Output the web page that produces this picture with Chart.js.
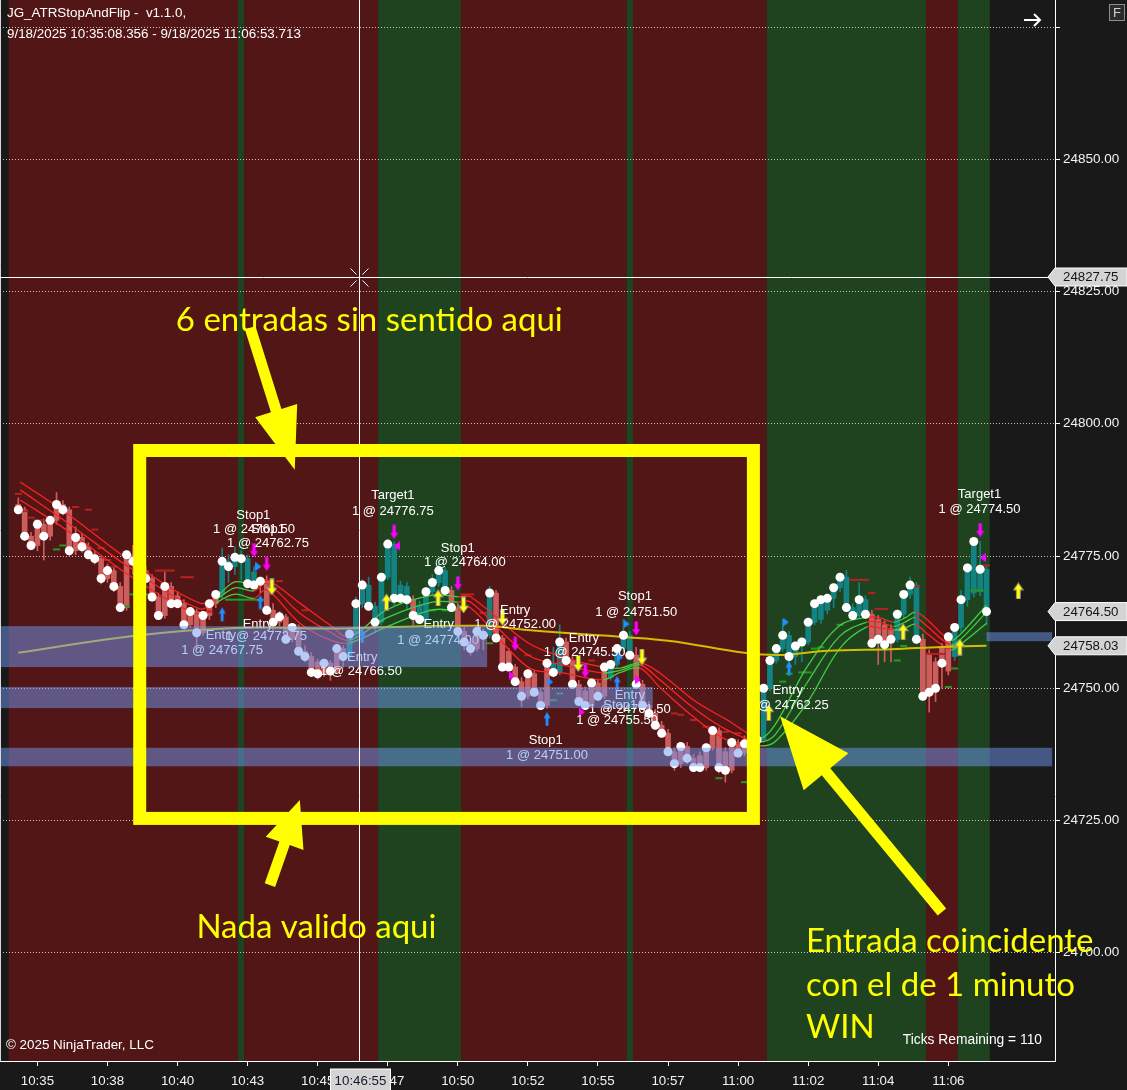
<!DOCTYPE html>
<html>
<head>
<meta charset="utf-8">
<script src="https://cdn.jsdelivr.net/npm/chart.js@4.4.1/dist/chart.umd.min.js"></script>
<style>
  html, body { margin: 0; padding: 0; background: #191919; overflow: hidden; }
  canvas { display: block; }
</style>
</head>
<body>
<canvas id="chart" width="1127" height="1090" style="width:1127px;height:1090px"></canvas>
<script>
// ---- bar data (one entry per tick bar, left to right) ----
const opens = [
  24784.75,24783.75,24778.75,24777.0,24781.0,24778.75,24781.75,24784.75,24783.75,24776.0,
  24778.5,24776.75,24775.25,24774.5,24770.75,24772.25,24769.25,24765.25,24775.25,24774.0,
  24772.25,24770.75,24767.25,24763.75,24769.25,24767.5,24766.0,24762.0,24764.5,24760.5,
  24763.75,24766.0,24767.75,24774.0,24773.0,24774.75,24774.5,24772.0,24769.5,24770.25,
  24764.75,24762.5,24763.5,24759.25,24761.5,24757.0,24756.0,24755.0,24752.75,24754.75,
  24753.25,24757.5,24756.0,24760.25,24766.0,24769.5,24765.5,24762.5,24771.0,24777.25,
  24769.5,24769.25,24766.75,24765.75,24763.0,24768.25,24770.0,24772.25,24768.5,24765.25,
  24760.75,24758.75,24757.5,24760.75,24760.0,24768.0,24759.5,24757.0,24754.0,24751.25,
  24748.5,24752.75,24749.25,24746.75,24754.75,24753.0,24758.75,24755.25,24750.75,24749.5,
  24746.75,24751.0,24748.5,24752.0,24754.5,24757.5,24760.0,24756.25,24750.75,24746.75,
  24745.25,24743.0,24741.5,24738.0,24735.75,24739.0,24736.75,24737.25,24735.0,24738.75,
  24742.0,24738.0,24734.5,24739.75,24737.75,24740.5,24739.25,24740.25,24750.0,24755.25,
  24757.5,24760.0,24756.0,24758.0,24758.75,24762.5,24763.0,24764.75,24767.0,24769.0,
  24771.0,24765.25,24763.75,24766.75,24764.0,24763.0,24762.0,24761.25,24759.25,24764.0,
  24767.75,24769.5,24759.25,24756.5,24755.0,24757.75,24753.25,24756.0,24761.5,24766.75,
  24768.0,24768.25,24772.5
];
const highs = [
  24786.0,24784.25,24779.5,24781.75,24782.0,24782.5,24787.0,24785.5,24784.25,24780.5,
  24779.25,24777.5,24776.0,24775.0,24773.5,24773.0,24770.0,24776.0,24777.0,24775.0,
  24773.0,24771.5,24768.0,24772.0,24770.0,24768.25,24766.75,24765.25,24765.0,24764.5,
  24766.75,24768.5,24776.5,24775.25,24776.75,24776.0,24775.25,24773.0,24771.0,24771.25,
  24766.0,24764.5,24764.0,24762.25,24762.0,24758.0,24756.75,24755.5,24755.5,24755.25,
  24758.25,24758.0,24761.0,24767.25,24770.5,24771.0,24766.25,24771.75,24778.0,24777.75,
  24770.25,24770.0,24767.5,24766.5,24769.0,24771.5,24773.5,24772.75,24769.25,24766.0,
  24761.5,24759.5,24761.5,24761.25,24769.25,24768.5,24760.0,24757.5,24754.5,24752.0,
  24753.5,24753.25,24750.0,24755.5,24757.75,24762.0,24759.5,24756.0,24751.5,24750.25,
  24751.75,24751.75,24754.75,24755.25,24758.25,24763.0,24760.75,24757.75,24751.5,24747.5,
  24746.0,24743.75,24742.25,24738.75,24739.75,24739.75,24737.5,24738.0,24739.5,24742.75,
  24742.5,24738.75,24740.5,24740.25,24741.0,24741.5,24741.0,24750.75,24756.0,24758.25,
  24763.0,24760.75,24758.75,24759.5,24763.25,24766.75,24767.5,24767.75,24769.75,24771.75,
  24772.25,24766.0,24770.0,24767.5,24764.75,24763.75,24762.75,24762.0,24764.75,24768.5,
  24771.0,24770.0,24760.25,24757.25,24755.75,24758.5,24760.5,24762.25,24768.5,24773.5,
  24778.25,24777.75,24773.0
];
const lows = [
  24783.0,24778.0,24776.25,24776.0,24774.25,24778.0,24781.0,24782.75,24775.0,24775.25,
  24775.75,24774.5,24773.5,24769.75,24770.0,24768.25,24764.5,24764.75,24771.5,24771.5,
  24770.0,24766.5,24763.0,24763.25,24765.25,24765.25,24761.25,24761.5,24757.5,24760.0,
  24763.0,24765.25,24767.0,24770.0,24771.5,24770.5,24769.0,24768.75,24768.0,24764.0,
  24760.75,24761.75,24758.5,24758.75,24756.25,24755.0,24752.25,24751.75,24752.25,24751.5,
  24752.75,24754.0,24755.5,24759.75,24765.25,24764.75,24760.5,24762.0,24770.5,24765.75,
  24766.0,24765.0,24762.0,24762.25,24762.5,24767.5,24769.25,24767.5,24764.5,24760.0,
  24757.25,24756.25,24757.0,24757.25,24759.5,24758.75,24753.25,24753.25,24750.5,24746.5,
  24748.0,24748.5,24746.0,24746.25,24752.25,24752.5,24754.5,24750.0,24746.75,24746.0,
  24746.25,24747.75,24748.0,24751.5,24754.0,24757.0,24755.5,24750.0,24746.0,24744.5,
  24742.25,24740.75,24737.25,24734.5,24735.0,24735.75,24734.25,24734.25,24734.5,24738.25,
  24734.0,24732.25,24734.0,24737.0,24737.25,24738.5,24738.75,24739.75,24749.5,24754.75,
  24757.0,24753.0,24754.5,24755.0,24758.25,24762.0,24762.25,24764.0,24765.25,24768.25,
  24764.5,24763.0,24763.25,24763.25,24757.75,24754.5,24755.0,24755.0,24758.75,24763.25,
  24767.0,24758.5,24747.75,24745.5,24747.5,24750.0,24752.5,24755.25,24760.75,24765.5,
  24767.25,24767.5,24762.0
];
const closes = [
  24783.75,24778.75,24777.0,24781.0,24778.75,24781.75,24784.75,24783.75,24776.0,24778.5,
  24776.75,24775.25,24774.5,24770.75,24772.25,24769.25,24765.25,24775.25,24774.0,24772.25,
  24770.75,24767.25,24763.75,24769.25,24766.0,24766.0,24762.0,24764.5,24760.5,24763.75,
  24766.0,24767.75,24774.0,24773.0,24774.75,24774.5,24769.75,24769.5,24770.25,24764.75,
  24762.5,24763.5,24759.25,24761.5,24757.0,24756.0,24753.0,24752.75,24754.75,24753.25,
  24757.5,24756.0,24760.25,24766.0,24769.5,24765.5,24762.5,24771.0,24777.25,24767.0,
  24767.0,24766.75,24763.75,24763.0,24768.25,24770.0,24772.25,24768.5,24765.25,24760.75,
  24758.75,24757.5,24760.75,24760.0,24768.0,24759.5,24754.0,24754.0,24751.25,24748.5,
  24752.75,24749.25,24746.75,24754.75,24753.0,24758.75,24755.25,24750.75,24747.5,24746.75,
  24751.0,24748.5,24754.0,24754.5,24757.5,24760.0,24756.25,24750.75,24746.75,24745.25,
  24743.0,24741.5,24738.0,24735.75,24739.0,24736.75,24735.0,24735.0,24738.75,24742.0,
  24735.0,24734.5,24739.75,24737.75,24739.5,24739.25,24740.25,24750.0,24755.25,24757.5,
  24760.0,24756.0,24758.0,24758.75,24762.5,24766.0,24766.75,24767.0,24769.0,24771.0,
  24765.25,24763.75,24766.75,24764.0,24758.5,24759.25,24758.25,24759.25,24764.0,24767.75,
  24769.5,24759.25,24748.5,24749.25,24750.0,24754.75,24759.75,24761.5,24766.75,24772.75,
  24777.75,24772.5,24764.5
];

// bar colouring by trend state: [firstBar, lastBar, 1 = up / -1 = down]
const trendRuns = [
  [0,31,-1],[32,37,1],[38,51,-1],[52,61,1],[62,62,-1],[63,67,1],[68,73,-1],[74,74,1],
  [75,83,-1],[84,85,1],[86,92,-1],[93,96,1],[97,116,-1],[117,133,1],[134,137,-1],
  [138,141,1],[142,146,-1],[147,152,1]
];
// background regime bands: [firstBar, lastBar, 'r' | 'g']
const bgRuns = [
  [-1,34,'r'],[35,35,'g'],[36,56,'r'],[57,69,'g'],[70,95,'r'],[96,96,'g'],
  [97,117,'r'],[118,142,'g'],[143,147,'r'],[148,152,'g']
];

// axes
const timeTickBars = [3,14,25,36,47,58,69,80,91,102,113,124,135,146];
const timeLabels = ['10:35','10:38','10:40','10:43','10:45','10:47','10:50','10:52','10:55','10:57','11:00','11:02','11:04','11:06'];
const priceTicks = [24700,24725,24750,24775,24800,24825,24850,24875];

// moving average [bar, price]
const smaPts = [
  [0,24756.7],[18,24759.9],[34,24761.4],[50,24761.3],[59,24761.6],[73,24761.8],[80,24761.0],
  [90,24760.1],[102,24759.0],[114,24756.7],[120,24756.3],[127,24757.1],[137,24757.4],
  [145,24757.8],[152,24758.03]
];

// ATR ribbon, three lines [bar, price]
const ribbonA = [
  [0.3,24789.0],[7.6,24783.1],[18,24773.7],[28.5,24766.1],[31,24767.3],[34,24770.1],[37,24769.6],
  [39,24770.5],[44.2,24766.1],[49,24761.9],[52,24759.7],[57.8,24764.8],[65,24767.6],[69,24767.3],
  [71,24767.3],[80,24758.6],[85.5,24755.9],[91.8,24754.0],[94.5,24753.8],[97.6,24754.8],
  [100.7,24752.9],[106,24747.8],[111.3,24744.0],[116.4,24740.6],[118.8,24743.1],[123.8,24754.0],
  [129,24761.9],[133.2,24763.4],[135.3,24763.3],[137.4,24762.5],[139.2,24763.3],[140.8,24764.4],
  [142.4,24763.3],[146.3,24759.1],[147.8,24760.1],[152,24765.7]
];
const ribbonB = [
  [0.3,24787.5],[7.6,24781.4],[18,24772.4],[28.5,24765.0],[31,24766.7],[34,24769.0],[37,24768.4],
  [39,24769.8],[44.2,24764.2],[49,24760.6],[52,24759.1],[57.8,24763.3],[65,24766.3],[69,24766.3],
  [71,24766.3],[80,24756.3],[85.5,24754.4],[91.8,24752.9],[94.5,24753.4],[97.6,24754.4],
  [100.7,24751.6],[106,24746.3],[111.3,24742.1],[116.4,24739.9],[118.8,24741.2],[123.8,24751.0],
  [129,24759.9],[133.2,24762.5],[135.3,24762.5],[137.4,24761.7],[139.2,24762.5],[140.8,24763.4],
  [142.4,24762.0],[146.3,24758.2],[147.8,24759.1],[152,24764.4]
];
const ribbonC = [
  [0.3,24785.6],[7.6,24779.9],[18,24770.9],[28.5,24763.9],[31,24766.1],[34,24767.8],[37,24767.0],
  [39,24768.6],[44.2,24762.3],[49,24759.1],[52,24758.6],[57.8,24761.6],[65,24764.8],[69,24764.8],
  [71,24765.2],[80,24754.0],[85.5,24752.9],[91.8,24751.6],[94.5,24753.0],[97.6,24753.8],
  [100.7,24750.2],[106,24744.6],[111.3,24740.2],[116.4,24739.1],[118.8,24739.9],[123.8,24747.2],
  [129,24757.6],[133.2,24761.6],[135.3,24761.4],[137.4,24761.0],[139.2,24761.4],[140.8,24762.1],
  [142.4,24760.6],[146.3,24757.3],[147.8,24758.2],[152,24762.3]
];

// stop dashes [bar, price]
const redDashes = [
  [0,24786.75],[1,24783.5],[2,24782.25],[3,24781.75],[4,24781.75],[5,24781.75],[9,24784.25],
  [11,24783.75],[12,24780.0],[13,24776.5],[14,24774.25],[15,24773.0],[22,24772.25],[23,24772.25],
  [24,24772.25],[26,24771.0],[27,24771.0],[29,24764.0],[30,24764.5],[41,24770.25],[45,24764.75],
  [70,24767.75],[71,24767.75],[73,24764.25],[80,24756.25],[85,24755.25],[90,24755.25],
  [103,24745.25],[104,24745.0],[106,24744.0],[108,24742.75],[111,24741.75],[113,24741.5],
  [131,24770.5],[132,24770.5],[133,24770.5],[134,24768.0],[135,24765.0],[136,24765.0],
  [141,24769.25],[143,24756.5],[144,24756.5],[145,24756.5],[152,24773.25]
];
const greenDashes = [
  [6,24776.25],[7,24777.0],[17,24765.5],[18,24767.75],[20,24767.75],[33,24766.75],[34,24766.75],
  [35,24766.75],[36,24766.75],[37,24766.75],[38,24766.75],[52,24758.5],[65,24764.75],[67,24764.75],
  [68,24764.75],[74,24758.5],[84,24747.75],[85,24749.0],[110,24733.0],[114,24732.25],[120,24751.25],
  [121,24752.75],[123,24753.0],[124,24753.0],[125,24757.5],[126,24757.75],[129,24762.0],
  [138,24755.25],[139,24758.0],[146,24750.25],[147,24753.75],[150,24768.5],[151,24768.5]
];

// order markers [bar, price]
const blueUpArrows = [[32,24764.0],[38,24766.3],[54,24759.9],[83,24744.2],[94,24751.0],[121,24753.8]];
const blueFlags = [[37.7,24773.0],[83.5,24751.2],[95.5,24762.15],[94.5,24755.9],[120.5,24762.5]];
const magentaDownArrows = [[37,24776.1],[39,24773.5],[59,24779.55],[69,24769.85],[78,24758.4],[89,24753.3],[97,24761.3],[151,24779.9]];
const magentaLeftFlags = [[59.4,24776.9],[151.4,24774.7]];
const magentaRightFlags = [[77.5,24752.4],[88.5,24745.5],[97.3,24751.6]];
const yellowUpArrows = [[57.8,24766.3],[65.9,24767.1],[117.8,24745.4],[138.9,24760.7],[147.8,24757.8],[157,24768.4]];
const yellowDownArrows = [[39.8,24769.15],[69.9,24765.75],[76,24763.4],[87.9,24754.7],[97.9,24755.9]];

// order fill labels [text, bar, price]
const orderLabels = [
  ['Stop1',36.9,24782.75],['1 @ 24761.50',37.0,24780.1],['Stop1',39.2,24780.1],['1 @ 24762.75',39.2,24777.3],
  ['Target1',58.8,24786.5],['1 @ 24776.75',58.8,24783.5],['Stop1',69.0,24776.5],['1 @ 24764.00',70.1,24773.7],
  ['Entry',78.0,24764.8],['1 @ 24752.00',78.0,24762.0],['Stop1',96.8,24767.3],['1 @ 24751.50',97.0,24764.4],
  ['Entry',88.8,24759.5],['1 @ 24745.50',88.9,24756.8],['Entry',96.0,24748.7],['Stop1',94.5,24746.7],
  ['1 @ 24761.50',96.0,24746.0],['1 @ 24755.50',94.0,24743.9],['Stop1',82.8,24740.2],['1 @ 24751.00',83.0,24737.4],
  ['Entry',120.8,24749.55],['1 @ 24762.25',120.8,24746.7],['Target1',150.9,24786.7],['1 @ 24774.50',150.9,24783.9],
  ['Entry',31.8,24759.9],['1 @ 24767.75',32.0,24757.1],['Entry',37.6,24762.15],['1 @ 24772.75',38.9,24759.75],
  ['Entry',54.0,24755.8],['1 @ 24766.50',53.8,24753.1],['Entry',66.0,24762.0],['1 @ 24774.00',65.9,24759.1]
];

// price zones [topPrice, bottomPrice, fromBar, toBar]
const zones = [
  [24761.75,24754.0,-3,73.6],
  [24750.25,24746.25,-3,99.6],
  [24738.75,24735.25,-3,162.3],
  [24760.6,24758.9,152.0,162.3]
];

// hand drawings (bar, price)
const boxNote = { from: [19.06, 24794.95], to: [115.4, 24725.4] };
const noteArrows = [
  { from: [36.4, 24818.15], to: [43.4, 24791.3], head: [62, 44] },
  { from: [39.5, 24712.8], to: [44.2, 24728.9], head: [46, 40] },
  { from: [145.0, 24707.7], to: [119.6, 24744.7], head: [72, 58] }
];
const notes = [
  { text: '6 entradas sin sentido aqui', at: [55.1, 24817.5], align: 'center' },
  { text: 'Nada valido aqui', at: [46.8, 24702.8], align: 'center' },
  { text: 'Entrada coincidente', at: [123.66, 24700.15], align: 'left' },
  { text: 'con el de 1 minuto', at: [123.66, 24691.8], align: 'left' },
  { text: 'WIN', at: [123.66, 24683.9], align: 'left' }
];
const crosshair = { bar: 53.47, price: 24827.75, time: '10:46:55' };

// ---- styling ----
const FONT = 'Liberation Sans, Arial, sans-serif';
const UP = '#138282', DOWN = '#cd5c5c';
const RIB_UP = '#3fcf3f', RIB_DN = '#ff2121';
const RED_BG = '#531616', GREEN_BG = '#1f431f';
const ZONE = 'rgba(112,152,242,0.5)';

Chart.defaults.font.family = FONT;

const trendOf = i => {
  for (const r of trendRuns) if (i >= r[0] && i <= r[1]) return r[2];
  return 1;
};
const bars = closes.map((_, i) => i);
const candleColors = bars.map(i => trendOf(i) > 0 ? UP : DOWN);
const pts = arr => arr.map(([x, y]) => ({ x, y }));
const ribbonSeg = { borderColor: c => trendOf(Math.round((c.p0.parsed.x + c.p1.parsed.x) / 2)) > 0 ? RIB_UP : RIB_DN };

function icon(kind, fill, stroke, w, h) {
  const c = document.createElement('canvas');
  c.width = w; c.height = h;
  const g = c.getContext('2d');
  g.beginPath();
  const hh = h * 0.45, s0 = w * 0.32, s1 = w * 0.68;
  if (kind === 'up') {
    g.moveTo(w / 2, 0.5); g.lineTo(w - 0.5, hh); g.lineTo(s1, hh); g.lineTo(s1, h - 0.5);
    g.lineTo(s0, h - 0.5); g.lineTo(s0, hh); g.lineTo(0.5, hh);
  } else if (kind === 'down') {
    g.moveTo(w / 2, h - 0.5); g.lineTo(w - 0.5, h - hh); g.lineTo(s1, h - hh); g.lineTo(s1, 0.5);
    g.lineTo(s0, 0.5); g.lineTo(s0, h - hh); g.lineTo(0.5, h - hh);
  } else if (kind === 'right') {
    g.moveTo(0, 0); g.lineTo(w, h / 2); g.lineTo(0, h);
  } else {
    g.moveTo(w, 0); g.lineTo(0, h / 2); g.lineTo(w, h);
  }
  g.closePath();
  g.fillStyle = fill; g.fill();
  if (stroke) { g.strokeStyle = stroke; g.lineWidth = 1; g.stroke(); }
  return c;
}

const markerSet = (data, style) => ({
  type: 'scatter', data: pts(data), pointStyle: style, pointRadius: 6, order: 0
});

const bandsPlugin = {
  id: 'bands',
  beforeDraw(chart) {
    const { ctx, chartArea: a, scales: { x } } = chart;
    ctx.save();
    ctx.fillStyle = '#191919';
    ctx.fillRect(0, 0, chart.width, chart.height);
    ctx.beginPath(); ctx.rect(a.left, a.top, a.right - a.left, a.bottom - a.top); ctx.clip();
    for (const [s, e, k] of bgRuns) {
      const x0 = x.getPixelForValue(s - 0.5), x1 = x.getPixelForValue(e + 0.5);
      ctx.fillStyle = k === 'g' ? GREEN_BG : RED_BG;
      ctx.fillRect(x0, a.top, x1 - x0, a.bottom - a.top);
    }
    ctx.restore();
  }
};

const labelsPlugin = {
  id: 'orderLabels',
  afterDatasetsDraw(chart) {
    const { ctx, chartArea: a, scales: { x, y } } = chart;
    ctx.save();
    ctx.font = '13px ' + FONT;
    ctx.fillStyle = '#ffffff';
    ctx.textAlign = 'center';
    ctx.textBaseline = 'middle';
    for (const [t, b, p] of orderLabels) ctx.fillText(t, x.getPixelForValue(b), y.getPixelForValue(p));
    ctx.beginPath(); ctx.rect(a.left, a.top, a.right - a.left, a.bottom - a.top); ctx.clip();
    ctx.fillStyle = ZONE;
    for (const [top, bot, b0, b1] of zones) {
      const x0 = x.getPixelForValue(b0), x1 = x.getPixelForValue(b1);
      const y0 = y.getPixelForValue(top), y1 = y.getPixelForValue(bot);
      ctx.fillRect(x0, y0, x1 - x0, y1 - y0);
    }
    ctx.restore();
  }
};

function yellowArrow(ctx, x0, y0, x1, y1, headL, headW) {
  const ang = Math.atan2(y1 - y0, x1 - x0);
  const len = Math.hypot(x1 - x0, y1 - y0);
  const sw = 11;
  ctx.save();
  ctx.translate(x0, y0); ctx.rotate(ang);
  ctx.beginPath();
  ctx.moveTo(0, -sw / 2); ctx.lineTo(len - headL, -sw / 2); ctx.lineTo(len - headL, -headW / 2);
  ctx.lineTo(len, 0); ctx.lineTo(len - headL, headW / 2); ctx.lineTo(len - headL, sw / 2);
  ctx.lineTo(0, sw / 2); ctx.closePath();
  ctx.fill();
  ctx.restore();
}

function priceTag(ctx, right, yPix, text) {
  ctx.beginPath();
  ctx.moveTo(right - 7, yPix);
  ctx.lineTo(right, yPix - 9); ctx.lineTo(1127, yPix - 9);
  ctx.lineTo(1127, yPix + 9); ctx.lineTo(right, yPix + 9);
  ctx.closePath();
  ctx.fillStyle = '#d4d4d4'; ctx.fill();
  ctx.strokeStyle = '#ffffff'; ctx.lineWidth = 1; ctx.stroke();
  ctx.fillStyle = '#141414';
  ctx.textAlign = 'left'; ctx.textBaseline = 'middle';
  ctx.fillText(text, right + 8, yPix + 0.5);
}

const overlayPlugin = {
  id: 'overlay',
  afterDraw(chart) {
    const { ctx, chartArea: a, scales: { x, y } } = chart;
    const px = b => x.getPixelForValue(b), py = p => y.getPixelForValue(p);
    ctx.save();

    // left panel border
    ctx.strokeStyle = '#d8d8d8'; ctx.lineWidth = 1;
    ctx.beginPath(); ctx.moveTo(0.5, 0); ctx.lineTo(0.5, a.bottom); ctx.stroke();

    // crosshair
    const cx = Math.round(px(crosshair.bar)) + 0.5, cy = Math.round(py(crosshair.price)) + 0.5;
    ctx.strokeStyle = '#ffffff';
    ctx.beginPath();
    ctx.moveTo(cx, a.top); ctx.lineTo(cx, a.bottom);
    ctx.moveTo(a.left, cy); ctx.lineTo(a.right, cy);
    ctx.stroke();
    ctx.beginPath();
    for (const [dx, dy] of [[-1, -1], [1, -1], [-1, 1], [1, 1]]) {
      ctx.moveTo(cx + dx * 3, cy + dy * 3); ctx.lineTo(cx + dx * 9, cy + dy * 9);
    }
    ctx.stroke();

    // yellow hand drawings
    ctx.strokeStyle = '#ffff00'; ctx.fillStyle = '#ffff00';
    ctx.lineWidth = 13;
    const bx0 = px(boxNote.from[0]), by0 = py(boxNote.from[1]);
    const bx1 = px(boxNote.to[0]), by1 = py(boxNote.to[1]);
    ctx.strokeRect(bx0, by0, bx1 - bx0, by1 - by0);
    for (const ar of noteArrows) {
      yellowArrow(ctx, px(ar.from[0]), py(ar.from[1]), px(ar.to[0]), py(ar.to[1]), ar.head[0], ar.head[1]);
    }
    ctx.font = '33px Lato, sans-serif';
    ctx.textBaseline = 'alphabetic';
    for (const n of notes) {
      ctx.textAlign = n.align;
      ctx.fillText(n.text, px(n.at[0]), py(n.at[1]));
    }

    // axis tags
    ctx.font = '13.3px ' + FONT;
    priceTag(ctx, a.right, cy - 0.5, crosshair.price.toFixed(2));
    priceTag(ctx, a.right, py(closes[closes.length - 1]), closes[closes.length - 1].toFixed(2));
    const smaLast = smaPts[smaPts.length - 1][1];
    priceTag(ctx, a.right, py(smaLast), smaLast.toFixed(2));
    ctx.fillStyle = '#d4d4d4';
    ctx.fillRect(cx - 29, a.bottom + 8, 60, 22);
    ctx.strokeStyle = '#ffffff'; ctx.lineWidth = 1;
    ctx.strokeRect(cx - 29, a.bottom + 8, 60, 22);
    ctx.fillStyle = '#141a2a';
    ctx.textAlign = 'center'; ctx.textBaseline = 'middle';
    ctx.fillText(crosshair.time, cx + 1, a.bottom + 20);

    // header and footer texts
    ctx.fillStyle = '#ffffff';
    ctx.textAlign = 'left';
    ctx.font = '13.4px ' + FONT;
    ctx.fillText('JG_ATRStopAndFlip -  v1.1.0,', 7, 13);
    ctx.fillText('9/18/2025 10:35:08.356 - 9/18/2025 11:06:53.713', 7, 34);
    ctx.fillText('\u00A9 2025 NinjaTrader, LLC', 6, 1045);
    ctx.font = '13.8px ' + FONT;
    ctx.textAlign = 'right';
    ctx.fillText('Ticks Remaining = 110', 1042, 1040);

    // top right icons
    ctx.strokeStyle = '#ffffff'; ctx.lineWidth = 2;
    ctx.beginPath();
    ctx.moveTo(1024, 20); ctx.lineTo(1040, 20);
    ctx.moveTo(1034, 14); ctx.lineTo(1040, 20); ctx.lineTo(1034, 26);
    ctx.stroke();
    ctx.fillStyle = '#2c2c2c'; ctx.fillRect(1109.5, 4.5, 15, 16);
    ctx.strokeStyle = '#8c8c8c'; ctx.lineWidth = 1; ctx.strokeRect(1109.5, 4.5, 15, 16);
    ctx.fillStyle = '#d0d0d0'; ctx.textAlign = 'center'; ctx.font = '13px ' + FONT;
    ctx.fillText('F', 1117, 13);

    ctx.restore();
  }
};

new Chart(document.getElementById('chart'), {
  type: 'line',
  data: {
    datasets: [
      { type: 'bar', data: bars.map(i => ({ x: i, y: [lows[i], highs[i]] })),
        backgroundColor: candleColors, barThickness: 1, grouped: false, order: 6 },
      { type: 'bar', data: bars.map(i => ({ x: i, y: [Math.min(opens[i], closes[i]), Math.max(opens[i], closes[i])] })),
        backgroundColor: candleColors, barThickness: 5, grouped: false, order: 5 },
      { type: 'scatter', data: pts(redDashes), pointStyle: 'line', pointRadius: 3.5,
        borderColor: '#b42222', borderWidth: 2, order: 4 },
      { type: 'scatter', data: pts(greenDashes), pointStyle: 'line', pointRadius: 3.5,
        borderColor: '#239a23', borderWidth: 2, order: 4 },
      { type: 'line', data: pts(ribbonA), borderWidth: 1.3, pointRadius: 0, tension: 0.35, borderColor: RIB_DN, segment: ribbonSeg, order: 3 },
      { type: 'line', data: pts(ribbonB), borderWidth: 1.3, pointRadius: 0, tension: 0.35, borderColor: RIB_DN, segment: ribbonSeg, order: 3 },
      { type: 'line', data: pts(ribbonC), borderWidth: 1.3, pointRadius: 0, tension: 0.35, borderColor: RIB_DN, segment: ribbonSeg, order: 3 },
      { type: 'line', data: pts(smaPts), borderWidth: 2, pointRadius: 0, tension: 0.4, borderColor: '#d2be00', order: 2 },
      { type: 'scatter', data: bars.map(i => ({ x: i, y: closes[i] })), pointRadius: 4.5,
        pointBackgroundColor: '#ffffff', pointBorderWidth: 0, order: 1 },
      markerSet(blueUpArrows, icon('up', '#1e90ff', null, 8, 15)),
      markerSet(blueFlags, icon('right', '#1e90ff', null, 6, 9)),
      markerSet(magentaDownArrows, icon('down', '#ff00ff', null, 9, 15)),
      markerSet(magentaLeftFlags, icon('left', '#ff00ff', null, 6, 9)),
      markerSet(magentaRightFlags, icon('right', '#ff00ff', null, 6, 9)),
      markerSet(yellowUpArrows, icon('up', '#ffff00', '#8a8a8a', 11, 17)),
      markerSet(yellowDownArrows, icon('down', '#ffff00', '#8a8a8a', 11, 17))
    ]
  },
  options: {
    responsive: false,
    devicePixelRatio: 1,
    animation: false,
    events: [],
    layout: { padding: 0, autoPadding: false },
    plugins: { legend: { display: false }, tooltip: { enabled: false }, title: { display: false } },
    scales: {
      x: {
        type: 'linear', position: 'bottom', min: -2.873, max: 162.75, offset: false,
        grid: { drawOnChartArea: false, drawTicks: true, tickLength: 5, color: '#ffffff', offset: false },
        border: { display: true, color: '#ffffff', width: 1 },
        ticks: {
          color: '#f2f2f2', font: { size: 13.3, family: FONT }, padding: 7, maxRotation: 0, autoSkip: false,
          callback: v => { const k = timeTickBars.indexOf(v); return k >= 0 ? timeLabels[k] : ''; }
        },
        afterBuildTicks: s => { s.ticks = timeTickBars.map(v => ({ value: v })); },
        afterFit: s => { s.height = 29; s.paddingLeft = 0; s.paddingRight = 0; }
      },
      y: {
        type: 'linear', position: 'right', min: 24679.54, max: 24880.11,
        grid: { drawOnChartArea: true, drawTicks: true, tickLength: 5, color: 'rgba(235,235,235,0.8)', tickColor: '#ffffff', lineWidth: 1 },
        border: { display: true, color: '#ffffff', width: 1, dash: [1, 2] },
        ticks: {
          color: '#f2f2f2', font: { size: 13.5, family: FONT }, padding: 3,
          callback: v => v > 24860 ? '' : Number(v).toFixed(2)
        },
        afterBuildTicks: s => { s.ticks = priceTicks.map(v => ({ value: v })); },
        afterFit: s => { s.width = 72; s.paddingTop = 0; s.paddingBottom = 0; }
      }
    }
  },
  plugins: [bandsPlugin, labelsPlugin, overlayPlugin]
});
</script>
</body>
</html>
